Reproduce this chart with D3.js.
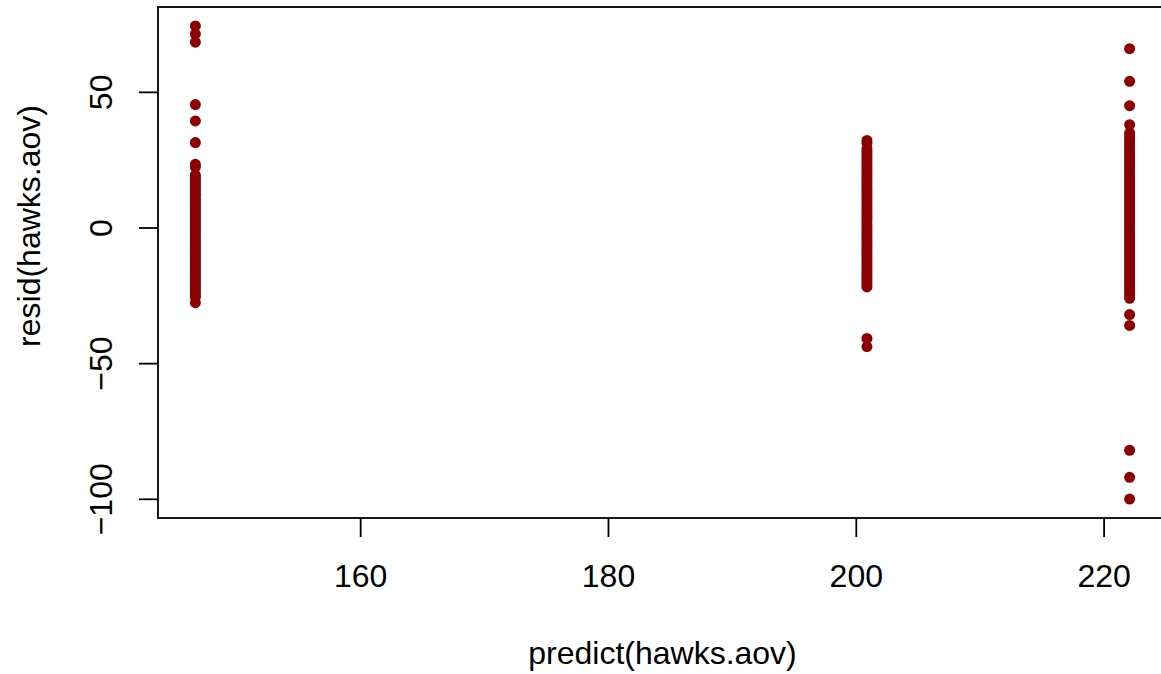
<!DOCTYPE html>
<html>
<head>
<meta charset="utf-8">
<script src="https://cdn.jsdelivr.net/npm/d3@7"></script>
<style>
  html, body { margin: 0; padding: 0; background: #fff; overflow: hidden; }
  svg { display: block; }
  text { font-family: "Liberation Sans", Arial, Helvetica, sans-serif; fill: #000; }
</style>
</head>
<body>
<svg id="chart" width="1161" height="674"></svg>
<script>
// Tail length by species, with the fitted (group mean) value of the one-way ANOVA
const species = ["CH", "RT", "SS"];
const fitted = [200.9, 222.1, 146.7];

const tailCH = [157, 160, 179, 180, 181, 182, 183, 184, 185, 186, 187, 188, 189, 190,
  191, 192, 193, 194, 195, 196, 197, 198, 199, 200, 201, 202, 203, 204, 205, 206, 207,
  208, 209, 210, 211, 212, 213, 214, 215, 216, 217, 218, 219, 220, 221, 222, 223, 224,
  225, 226, 227, 228, 229, 230, 232, 233];

const tailRT = [122, 130, 140, 186, 190, 196, 197, 198, 199, 200, 201, 202, 203, 204,
  205, 206, 207, 208, 209, 210, 211, 212, 213, 214, 215, 216, 217, 218, 219, 220, 221,
  222, 223, 224, 225, 226, 227, 228, 229, 230, 231, 232, 233, 234, 235, 236, 237, 238,
  239, 240, 241, 242, 243, 244, 245, 246, 247, 248, 249, 250, 251, 252, 253, 254, 255,
  256, 257, 260, 267, 276, 288];

const tailSS = [119, 121, 122, 123, 124, 125, 126, 127, 128, 129, 130, 131, 132, 133,
  134, 135, 136, 137, 138, 139, 140, 141, 142, 143, 144, 145, 146, 147, 148, 149, 150,
  151, 152, 153, 154, 155, 156, 157, 158, 159, 160, 161, 162, 163, 164, 165, 166, 169,
  170, 178, 186, 192, 215, 218, 221];

const xTicks = [160, 180, 200, 220];
const yTicks = [-100, -50, 0, 50];

const tails = [tailCH, tailRT, tailSS];
const points = [];
tails.forEach((arr, i) => {
  arr.forEach(t => points.push({ species: species[i], predict: fitted[i], resid: t - fitted[i] }));
});

// plot region
const plot = { left: 158, right: 1167, top: 7, bottom: 518 };

// extend data range by 4% on each side
function padded(ext) {
  const d = (ext[1] - ext[0]) * 0.04;
  return [ext[0] - d, ext[1] + d];
}

const x = d3.scaleLinear()
  .domain(padded(d3.extent(points, d => d.predict)))
  .range([plot.left, plot.right]);
const y = d3.scaleLinear()
  .domain(padded(d3.extent(points, d => d.resid)))
  .range([plot.bottom, plot.top]);

const svg = d3.select("#chart");
const FS = 32;

// points
svg.append("g")
  .selectAll("circle")
  .data(points)
  .join("circle")
  .attr("cx", d => x(d.predict))
  .attr("cy", d => y(d.resid))
  .attr("r", 5.5)
  .attr("fill", "#8b0000");

// box around plot region
svg.append("rect")
  .attr("x", plot.left)
  .attr("y", plot.top)
  .attr("width", plot.right - plot.left)
  .attr("height", plot.bottom - plot.top)
  .attr("fill", "none")
  .attr("stroke", "#000")
  .attr("stroke-width", 1.8);

// x axis
const xAxis = d3.axisBottom(x).tickValues(xTicks).tickSize(19).tickPadding(10)
  .tickFormat(d3.format("d"));
const gx = svg.append("g")
  .attr("transform", `translate(0,${plot.bottom})`)
  .call(xAxis);
gx.select(".domain").remove();
gx.selectAll(".tick line").attr("stroke", "#000").attr("stroke-width", 1.8);
gx.selectAll(".tick text")
  .attr("font-size", FS)
  .attr("dy", null)
  .attr("y", 69)
  .attr("font-family", "Liberation Sans, Arial, sans-serif");

// y axis (labels parallel to axis)
const yAxis = d3.axisLeft(y).tickValues(yTicks).tickSize(19)
  .tickFormat(d => d < 0 ? "\u2212" + Math.abs(d) : String(d));
const gy = svg.append("g")
  .attr("transform", `translate(${plot.left},0)`)
  .call(yAxis);
gy.select(".domain").remove();
gy.selectAll(".tick line").attr("stroke", "#000").attr("stroke-width", 1.8);
gy.selectAll(".tick text")
  .attr("font-size", FS)
  .attr("x", null)
  .attr("dy", null)
  .attr("text-anchor", "middle")
  .attr("transform", "translate(-46,0) rotate(-90)")
  .attr("font-family", "Liberation Sans, Arial, sans-serif");

// axis titles
svg.append("text")
  .attr("x", (plot.left + plot.right) / 2)
  .attr("y", 664)
  .attr("text-anchor", "middle")
  .attr("font-size", FS)
  .text("predict(hawks.aov)");

svg.append("text")
  .attr("transform", "translate(40,226) rotate(-90)")
  .attr("text-anchor", "middle")
  .attr("font-size", FS)
  .text("resid(hawks.aov)");
</script>
</body>
</html>
